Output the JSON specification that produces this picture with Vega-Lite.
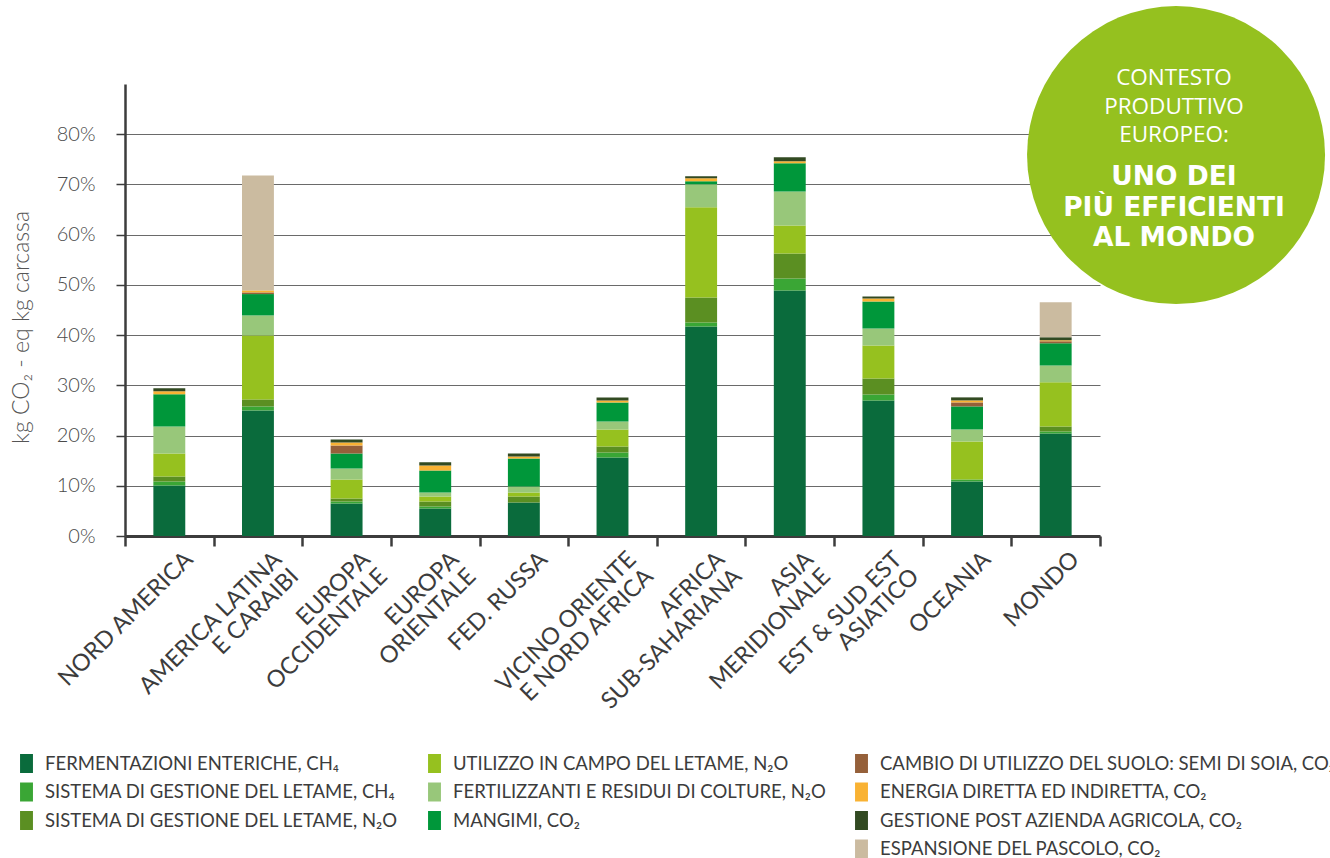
{
  "$schema": "https://vega.github.io/schema/vega-lite/v6.json",
  "width": 975,
  "height": 452,
  "autosize": {"type": "none"},
  "padding": {"left": 125, "top": 84, "right": 230, "bottom": 322},
  "background": "white",
  "config": {
    "font": "Lato, 'Open Sans', sans-serif",
    "view": {"stroke": null}
  },
  "datasets": {
    "emissioni": [
      {"regione": "NORD AMERICA", "ent": 0.1006, "ch4": 0.008, "n2o": 0.010, "camp": 0.0458, "fert": 0.0538, "mang": 0.0638, "energ": 0.006, "post": 0.006},
      {"regione": "AMERICA LATINA\nE CARAIBI", "ent": 0.25, "ch4": 0.008, "n2o": 0.0139, "camp": 0.1275, "fert": 0.0398, "mang": 0.0425, "suolo": 0.0033, "energ": 0.004, "pasc": 0.229},
      {"regione": "EUROPA\nOCCIDENTALE", "ent": 0.0647, "ch4": 0.004, "n2o": 0.006, "camp": 0.0378, "fert": 0.022, "mang": 0.0298, "suolo": 0.016, "energ": 0.006, "post": 0.006},
      {"regione": "EUROPA\nORIENTALE", "ent": 0.0548, "ch4": 0.004, "n2o": 0.010, "camp": 0.010, "fert": 0.008, "mang": 0.0438, "energ": 0.010, "post": 0.006},
      {"regione": "FED. RUSSA", "ent": 0.0667, "n2o": 0.012, "camp": 0.008, "fert": 0.012, "mang": 0.0558, "energ": 0.004, "post": 0.006},
      {"regione": "VICINO ORIENTE\nE NORD AFRICA", "ent": 0.1564, "ch4": 0.0099, "n2o": 0.012, "camp": 0.0339, "fert": 0.0159, "mang": 0.0378, "energ": 0.004, "post": 0.006},
      {"regione": "AFRICA\nSUB-SAHARIANA", "ent": 0.4173, "ch4": 0.008, "n2o": 0.0498, "camp": 0.1793, "fert": 0.0458, "mang": 0.006, "energ": 0.006, "post": 0.004},
      {"regione": "ASIA\nMERIDIONALE", "ent": 0.489, "ch4": 0.0239, "n2o": 0.0498, "camp": 0.0558, "fert": 0.0675, "mang": 0.056, "energ": 0.004, "post": 0.008},
      {"regione": "EST & SUD EST\nASIATICO", "ent": 0.2699, "ch4": 0.012, "n2o": 0.0318, "camp": 0.0658, "fert": 0.0338, "mang": 0.0538, "energ": 0.006, "post": 0.004},
      {"regione": "OCEANIA", "ent": 0.1086, "ch4": 0.004, "camp": 0.0757, "fert": 0.0239, "mang": 0.0458, "suolo": 0.008, "energ": 0.004, "post": 0.006},
      {"regione": "MONDO", "ent": 0.2042, "ch4": 0.004, "n2o": 0.010, "camp": 0.0877, "fert": 0.0338, "mang": 0.0439, "suolo": 0.004, "energ": 0.002, "post": 0.006, "pasc": 0.0697}
    ],
    "voci": [
      {"chiave": "ent", "voce": "FERMENTAZIONI ENTERICHE, CH₄", "ordine": 1},
      {"chiave": "ch4", "voce": "SISTEMA DI GESTIONE DEL LETAME, CH₄", "ordine": 2},
      {"chiave": "n2o", "voce": "SISTEMA DI GESTIONE DEL LETAME, N₂O", "ordine": 3},
      {"chiave": "camp", "voce": "UTILIZZO IN CAMPO DEL LETAME, N₂O", "ordine": 4},
      {"chiave": "fert", "voce": "FERTILIZZANTI E RESIDUI DI COLTURE, N₂O", "ordine": 5},
      {"chiave": "mang", "voce": "MANGIMI, CO₂", "ordine": 6},
      {"chiave": "suolo", "voce": "CAMBIO DI UTILIZZO DEL SUOLO: SEMI DI SOIA, CO₂", "ordine": 7},
      {"chiave": "energ", "voce": "ENERGIA DIRETTA ED INDIRETTA, CO₂", "ordine": 8},
      {"chiave": "post", "voce": "GESTIONE POST AZIENDA AGRICOLA, CO₂", "ordine": 9},
      {"chiave": "pasc", "voce": "ESPANSIONE DEL PASCOLO, CO₂", "ordine": 10}
    ]
  },
  "layer": [
    {
      "data": {"name": "emissioni"},
      "transform": [
        {"fold": ["ent", "ch4", "n2o", "camp", "fert", "mang", "suolo", "energ", "post", "pasc"], "as": ["chiave", "valore"]},
        {"filter": "datum.valore > 0"},
        {"lookup": "chiave", "from": {"data": {"name": "voci"}, "key": "chiave", "fields": ["voce", "ordine"]}}
      ],
      "mark": {"type": "bar", "width": {"band": 0.36}},
      "encoding": {
        "x": {
          "field": "regione", "type": "nominal", "sort": null,
          "scale": {"paddingInner": 0, "paddingOuter": 0},
          "axis": {
            "title": null,
            "labelAngle": -45, "labelAlign": "right", "labelBaseline": "top",
            "labelFontSize": 23.5, "labelColor": "#3c3c3c", "labelPadding": 1, "labelOffset": 11,
            "labelExpr": "split(datum.label, '\\n')", "labelLineHeight": 24, "labelLimit": 0,
            "domainColor": "#3c3c3c", "domainWidth": 3,
            "tickColor": "#3c3c3c", "tickWidth": 2.5, "tickSize": 10, "tickBand": "extent"
          }
        },
        "y": {
          "field": "valore", "type": "quantitative", "stack": "zero",
          "scale": {"domain": [0, 0.9], "nice": false},
          "axis": {
            "values": [0, 0.1, 0.2, 0.3, 0.4, 0.5, 0.6, 0.7, 0.8],
            "format": ".0%",
            "title": "kg CO₂ - eq kg carcassa",
            "grid": true, "gridColor": "#6a6a6a", "gridWidth": 1.2,
            "domainColor": "#3c3c3c", "domainWidth": 2.5,
            "tickColor": "#3c3c3c", "tickSize": 9, "tickWidth": 1.5,
            "labelFontSize": 20, "labelColor": "#4a4a4a", "labelFontWeight": 300, "labelPadding": 21,
            "titleFontSize": 23, "titleFontWeight": 300, "titleColor": "#555555",
            "titleX": -97, "titleY": 243, "titleBaseline": "alphabetic"
          }
        },
        "color": {
          "field": "voce", "type": "nominal",
          "scale": {
            "domain": [
              "FERMENTAZIONI ENTERICHE, CH₄", "SISTEMA DI GESTIONE DEL LETAME, CH₄", "SISTEMA DI GESTIONE DEL LETAME, N₂O", " ",
              "UTILIZZO IN CAMPO DEL LETAME, N₂O", "FERTILIZZANTI E RESIDUI DI COLTURE, N₂O", "MANGIMI, CO₂", "  ",
              "CAMBIO DI UTILIZZO DEL SUOLO: SEMI DI SOIA, CO₂", "ENERGIA DIRETTA ED INDIRETTA, CO₂", "GESTIONE POST AZIENDA AGRICOLA, CO₂", "ESPANSIONE DEL PASCOLO, CO₂"
            ],
            "range": [
              "#0a6b3c", "#3aa635", "#5b8f22", "rgba(0,0,0,0)",
              "#96c11f", "#98c77a", "#00973a", "rgba(0,0,0,0)",
              "#95603a", "#f9b233", "#324a22", "#cbbba0"
            ]
          },
          "legend": {
            "title": null, "orient": "none", "legendX": -108, "legendY": 670,
            "columns": 3, "gridAlign": "each", "columnPadding": 26, "rowPadding": 9.5,
            "symbolType": "M-0.68,-1L0.68,-1L0.68,1L-0.68,1Z",
            "symbolSize": 361, "symbolStrokeWidth": 0, "symbolOpacity": 1,
            "labelFontSize": 18.5, "labelColor": "#3c3c3c", "labelOffset": 9, "labelLimit": 0
          }
        },
        "order": {"field": "ordine", "type": "quantitative"}
      }
    },
    {
      "data": {"values": [{}]},
      "mark": {"type": "point", "shape": "circle", "filled": true, "color": "#95c11f", "opacity": 1, "size": 88804, "strokeWidth": 0},
      "encoding": {
        "x": {"datum": 1.078, "type": "quantitative", "scale": {"domain": [0, 1], "nice": false, "zero": false}, "axis": null},
        "y": {"datum": 0.7586, "type": "quantitative"}
      }
    },
    {
      "data": {"values": [{}]},
      "mark": {"type": "text", "text": ["CONTESTO", "PRODUTTIVO", "EUROPEO:"], "font": "Open Sans", "fontSize": 22.5, "color": "white", "lineHeight": 28.5, "align": "center", "baseline": "middle"},
      "encoding": {
        "x": {"datum": 1.0759, "type": "quantitative", "scale": {"domain": [0, 1], "nice": false, "zero": false}, "axis": null},
        "y": {"datum": 0.911, "type": "quantitative"}
      }
    },
    {
      "data": {"values": [{}]},
      "mark": {"type": "text", "text": ["UNO DEI", "PIÙ EFFICIENTI", "AL MONDO"], "font": "DejaVu Sans", "fontSize": 26.5, "fontWeight": "bold", "color": "white", "lineHeight": 30.5, "align": "center", "baseline": "middle"},
      "encoding": {
        "x": {"datum": 1.0759, "type": "quantitative", "scale": {"domain": [0, 1], "nice": false, "zero": false}, "axis": null},
        "y": {"datum": 0.7148, "type": "quantitative"}
      }
    }
  ],
  "resolve": {"scale": {"x": "independent"}}
}
